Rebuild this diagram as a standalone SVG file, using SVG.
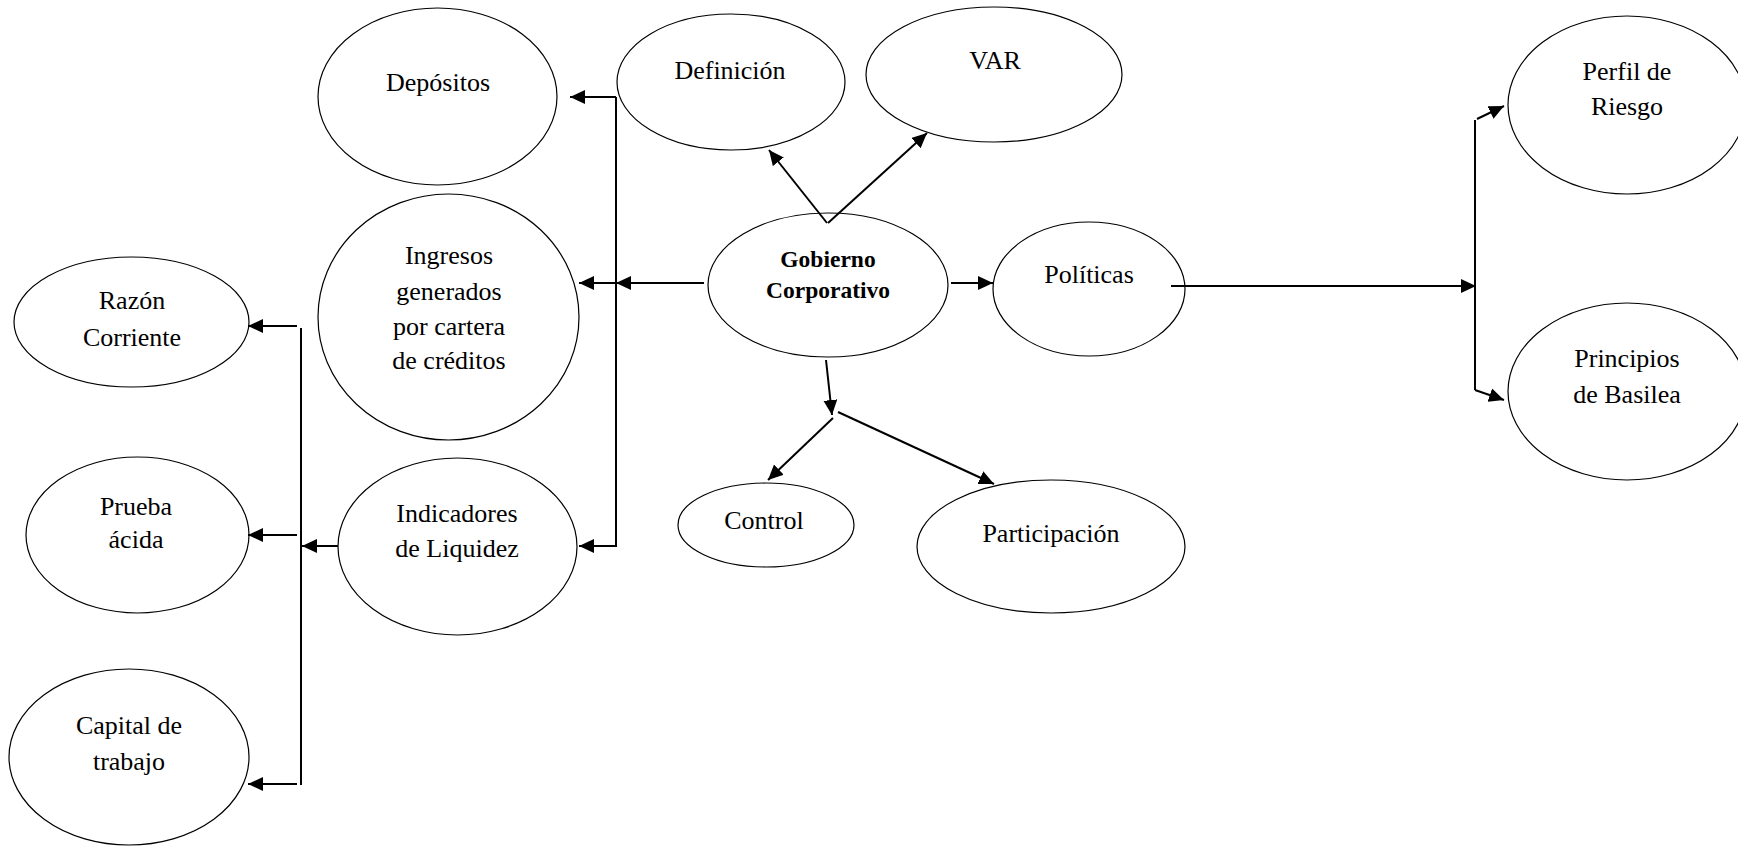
<svg xmlns="http://www.w3.org/2000/svg" width="1738" height="846" viewBox="0 0 1738 846">
<defs>
<marker id="ah" markerUnits="userSpaceOnUse" markerWidth="16" markerHeight="15" refX="15" refY="7" orient="auto" viewBox="0 0 16 15">
<path d="M0,0 L15,7 L0,14 z" fill="#000"/>
</marker>
</defs>
<style>
.n ellipse{fill:#fff;stroke:#000;stroke-width:1.2}
.n text{font-family:"Liberation Serif","Times New Roman",serif;font-size:26px;fill:#000;text-anchor:middle}
.n text.b{font-weight:bold;font-size:23.5px}
#connectors path{fill:none;stroke:#000;stroke-width:2}
#connectors path.a{marker-end:url(#ah)}
</style>
<rect width="1738" height="846" fill="#fff"/>
<g id="depositos" class="n"><ellipse cx="437.5" cy="96.5" rx="119.5" ry="88.5"/><text x="438" y="91">Depósitos</text></g>
<g id="definicion" class="n"><ellipse cx="731" cy="82" rx="114" ry="68"/><text x="730" y="79">Definición</text></g>
<g id="var" class="n"><ellipse cx="994" cy="74.5" rx="128" ry="67.5"/><text x="995" y="69">VAR</text></g>
<g id="gobierno" class="n"><ellipse cx="828" cy="285" rx="120" ry="72"/><text class="b" x="828" y="267">Gobierno</text><text class="b" x="828" y="298">Corporativo</text></g>
<g id="ingresos" class="n"><ellipse cx="448.5" cy="317" rx="130.5" ry="123"/><text x="449" y="264">Ingresos</text><text x="449" y="300">generados</text><text x="449" y="335">por cartera</text><text x="449" y="369">de créditos</text></g>
<g id="indicadores" class="n"><ellipse cx="457.5" cy="546.5" rx="119.5" ry="88.5"/><text x="457" y="522">Indicadores</text><text x="457" y="557">de Liquidez</text></g>
<g id="razon" class="n"><ellipse cx="131.5" cy="322" rx="117.5" ry="65"/><text x="132" y="309">Razón</text><text x="132" y="346">Corriente</text></g>
<g id="prueba" class="n"><ellipse cx="137.5" cy="535" rx="111.5" ry="78"/><text x="136" y="515">Prueba</text><text x="136" y="548">ácida</text></g>
<g id="capital" class="n"><ellipse cx="129" cy="757" rx="120" ry="88"/><text x="129" y="734">Capital de</text><text x="129" y="770">trabajo</text></g>
<g id="politicas" class="n"><ellipse cx="1089" cy="289" rx="96" ry="67"/><text x="1089" y="283">Políticas</text></g>
<g id="perfil" class="n"><ellipse cx="1627" cy="105" rx="119" ry="89"/><text x="1627" y="80">Perfil de</text><text x="1627" y="115">Riesgo</text></g>
<g id="principios" class="n"><ellipse cx="1627" cy="391.5" rx="119" ry="88.5"/><text x="1627" y="367">Principios</text><text x="1627" y="403">de Basilea</text></g>
<g id="control" class="n"><ellipse cx="766" cy="525" rx="88" ry="42"/><text x="764" y="529">Control</text></g>
<g id="participacion" class="n"><ellipse cx="1051" cy="546.5" rx="134" ry="66.5"/><text x="1051" y="542">Participación</text></g>
<g id="connectors">
<path class="a" d="M616,97 L570,97"/>
<path d="M616,97 L616,547"/>
<path class="a" d="M704,283 L616,283"/>
<path class="a" d="M616,283 L579,283"/>
<path class="a" d="M616,546 L579,546"/>
<path class="a" d="M338,546 L302,546"/>
<path d="M301,328 L301,785"/>
<path class="a" d="M297,326 L248,326"/>
<path class="a" d="M297,535 L248,535"/>
<path class="a" d="M297,784 L248,784"/>
<path class="a" d="M827,223 L769,150"/>
<path class="a" d="M828,223 L927,133"/>
<path class="a" d="M951,283 L993,283"/>
<path class="a" d="M1171,286 L1476,286"/>
<path d="M1475,120 L1475,390"/>
<path class="a" d="M1477,119 L1504,106"/>
<path class="a" d="M1475,390 L1504,400"/>
<path class="a" d="M826,360 L832,415"/>
<path class="a" d="M838,412 L994,484"/>
<path class="a" d="M833,418 L768,480"/>
</g>
</svg>
